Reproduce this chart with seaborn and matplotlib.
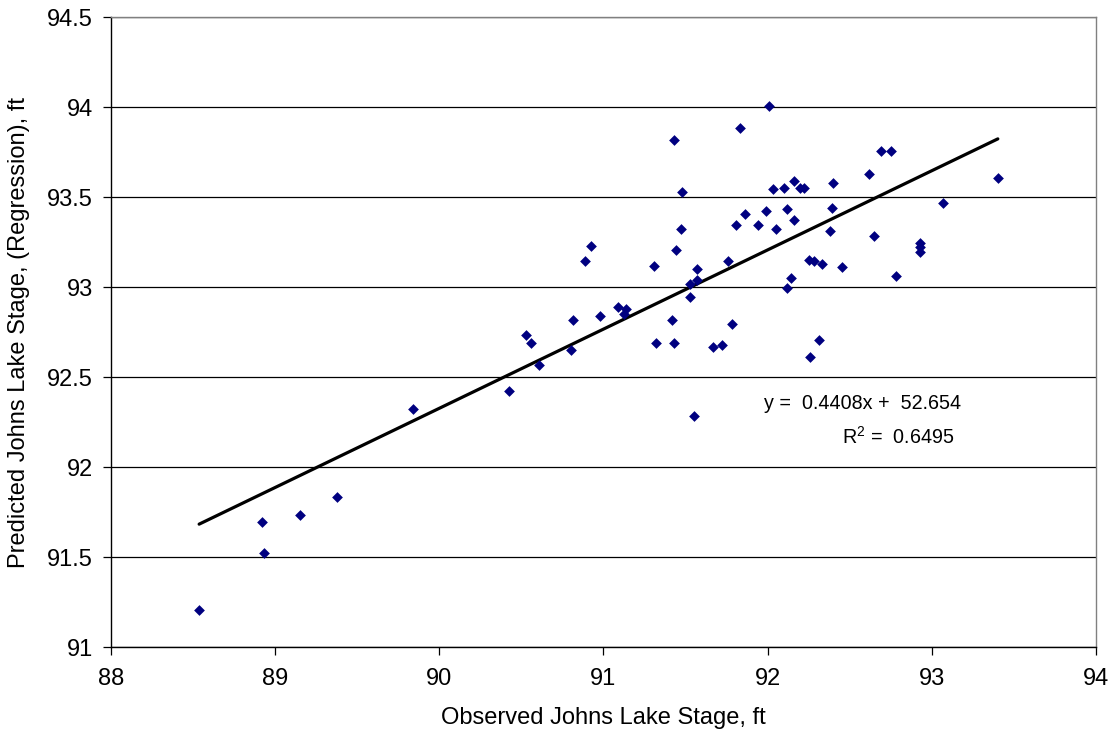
import matplotlib
matplotlib.use("Agg")
import matplotlib.pyplot as plt
import seaborn as sns
import numpy as np
import pandas as pd

observed = [88.537, 88.921, 88.933, 89.152, 89.378, 89.837, 90.427, 90.530, 90.560, 90.608,
            90.800, 90.817, 90.888, 90.927, 90.978, 91.087, 91.128, 91.140, 91.310, 91.320,
            91.420, 91.429, 91.430, 91.440, 91.470, 91.480, 91.526, 91.530, 91.550, 91.567,
            91.567, 91.670, 91.720, 91.760, 91.780, 91.810, 91.829, 91.860, 91.940, 91.990,
            92.008, 92.030, 92.050, 92.100, 92.120, 92.120, 92.140, 92.160, 92.160, 92.197,
            92.220, 92.250, 92.260, 92.280, 92.310, 92.330, 92.380, 92.390, 92.400, 92.450,
            92.620, 92.648, 92.689, 92.750, 92.780, 92.930, 92.930, 92.930, 93.070, 93.402]
predicted = [91.206, 91.694, 91.522, 91.733, 91.833, 92.320, 92.424, 92.733, 92.687, 92.565,
             92.650, 92.817, 93.143, 93.228, 92.839, 92.887, 92.850, 92.880, 93.118, 92.687,
             92.817, 93.817, 92.687, 93.207, 93.320, 93.530, 93.017, 92.944, 92.283, 93.100,
             93.040, 92.668, 92.680, 93.143, 92.796, 93.343, 93.881, 93.406, 93.343, 93.420,
             94.006, 93.543, 93.322, 93.550, 93.433, 92.996, 93.048, 93.589, 93.370, 93.550,
             93.550, 93.150, 92.611, 93.143, 92.707, 93.126, 93.311, 93.440, 93.580, 93.110,
             93.628, 93.285, 93.756, 93.756, 93.060, 93.246, 93.224, 93.196, 93.465, 93.606]
x_ticks = [88, 89, 90, 91, 92, 93, 94]
y_ticks = [91, 91.5, 92, 92.5, 93, 93.5, 94, 94.5]
y_tick_labels = ["91", "91.5", "92", "92.5", "93", "93.5", "94", "94.5"]

sns.set_theme(style="white")
plt.rcParams['font.family'] = ['Liberation Sans', 'DejaVu Sans']
plt.rcParams['mathtext.fontset'] = 'custom'
plt.rcParams['mathtext.rm'] = 'Liberation Sans'
plt.rcParams['mathtext.it'] = 'Liberation Sans'
plt.rcParams['text.color'] = 'black'
plt.rcParams['axes.labelcolor'] = 'black'
plt.rcParams['xtick.color'] = 'black'
plt.rcParams['ytick.color'] = 'black'

df = pd.DataFrame({"obs": observed, "pred": predicted})

fig = plt.figure(figsize=(11.12, 7.36), dpi=100)
ax = fig.add_axes([0.0998, 0.1209, 0.8858, 0.8560])

sns.regplot(data=df, x="obs", y="pred", ax=ax, ci=None, truncate=True,
            marker="D",
            scatter_kws={"s": 30, "color": "#000080", "alpha": 1.0,
                         "linewidths": 0, "zorder": 3},
            line_kws={"color": "black", "linewidth": 2.3, "zorder": 2})

ax.set_xlim(88, 94)
ax.set_ylim(91, 94.5)
ax.set_xticks(x_ticks)
ax.set_xticklabels([str(t) for t in x_ticks])
ax.set_yticks(y_ticks)
ax.set_yticklabels(y_tick_labels)
ax.tick_params(axis="both", which="major", labelsize=17, length=6, width=0.9,
               direction="out", color="black", bottom=True, left=True)
ax.tick_params(axis="x", pad=9)
ax.tick_params(axis="y", pad=7)
ax.yaxis.grid(True, color="black", linewidth=0.9)
ax.xaxis.grid(False)
ax.set_axisbelow(True)

for side in ["left", "bottom"]:
    ax.spines[side].set_color("black")
    ax.spines[side].set_linewidth(1.0)
for side in ["top", "right"]:
    ax.spines[side].set_color("#808080")
    ax.spines[side].set_linewidth(1.0)

ax.set_xlabel("Observed Johns Lake Stage, ft", fontsize=17, labelpad=12)
ax.set_ylabel("Predicted Johns Lake Stage, (Regression), ft", fontsize=17, labelpad=12)

ax.text(93.177, 92.322, "y =  0.4408x +  52.654", fontsize=14.2, ha="right", va="baseline")
ax.text(93.134, 92.128, "R$^2$ =  0.6495", fontsize=14.2, ha="right", va="baseline")

fig.savefig("out.png", dpi=100)
